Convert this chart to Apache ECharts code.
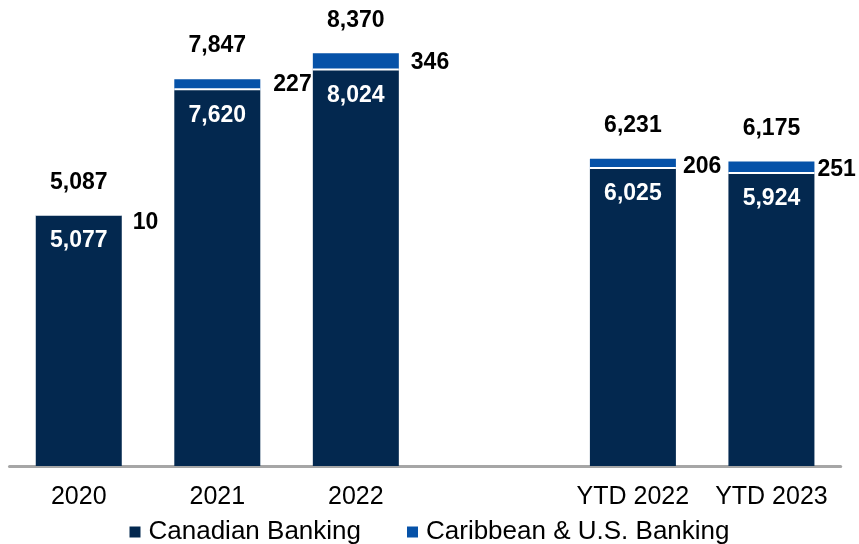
<!DOCTYPE html>
<html>
<head>
<meta charset="utf-8">
<script src="https://cdn.jsdelivr.net/npm/echarts@6/dist/echarts.min.js"></script>
<style>
  html, body { margin: 0; padding: 0; background: #fff; }
  #chart { width: 859px; height: 544px; }
</style>
</head>
<body>
<div id="chart"></div>
<script>
// Categories (an empty slot separates full years from year-to-date)
const categories = ['2020', '2021', '2022', '', 'YTD 2022', 'YTD 2023'];
// Segment values
const canadianBanking = [5077, 7620, 8024, null, 6025, 5924];
const caribbeanUSBanking = [10, 227, 346, null, 206, 251];
const seriesNames = ['Canadian Banking', 'Caribbean & U.S. Banking'];

// Stack totals shown above each bar
const totals = canadianBanking.map((v, i) => (v == null ? null : v + caribbeanUSBanking[i]));

// Per-bar nudges [dx, dy] for the side labels of the top segment
const sideLabelNudges = [[-1, 7], [1, 0], [0, 1], [-5, 3], [-9, 2]];

const NAVY = '#03284f';
const BLUE = '#0652a8';
const FONT = '"Liberation Sans", Arial, sans-serif';

const fmt = v => String(v).replace(/\B(?=(\d{3})+(?!\d))/g, ',');

const blueData = caribbeanUSBanking.map((v, i) => {
  if (v == null) return '-';
  const idx = i > 3 ? i - 1 : i;
  return { value: v, label: { offset: sideLabelNudges[idx] } };
});

// Zero-height cap on each stack that carries the total label
const capData = totals.map(t => (t == null ? '-' : { value: 0, total: t }));

const boldLabel = {
  fontFamily: FONT,
  fontSize: 23,
  fontWeight: 'bold',
  color: '#000000'
};

const chart = echarts.init(document.getElementById('chart'), null, { renderer: 'canvas' });

chart.setOption({
  animation: false,
  backgroundColor: '#ffffff',
  grid: { left: 9.5, right: 18.3, top: 22.3, bottom: 78, containLabel: false },
  legend: {
    data: seriesNames,
    left: 'center',
    top: 514,
    icon: 'rect',
    itemWidth: 11,
    itemHeight: 11,
    itemGap: 46,
    textStyle: { fontFamily: FONT, fontSize: 26, color: '#000', padding: [0, 0, 0, 3] }
  },
  xAxis: {
    type: 'category',
    data: categories,
    axisTick: { show: false },
    axisLine: { show: true, lineStyle: { color: '#a6a6a6', width: 3 } },
    axisLabel: { fontFamily: FONT, fontSize: 25, color: '#000', margin: 19, interval: 0 }
  },
  yAxis: {
    type: 'value',
    min: 0,
    max: 9000,
    show: false,
    splitLine: { show: false }
  },
  series: [
    {
      name: seriesNames[0],
      type: 'bar',
      stack: 'total',
      barWidth: 86,
      z: 3,
      data: canadianBanking.map(v => (v == null ? '-' : v)),
      itemStyle: {
        color: NAVY,
        shadowColor: '#ffffff',
        shadowBlur: 0,
        shadowOffsetX: 0,
        shadowOffsetY: -2
      },
      emphasis: { disabled: true },
      label: Object.assign({}, boldLabel, {
        show: true,
        position: 'insideTop',
        distance: 13.5,
        color: '#ffffff',
        formatter: p => fmt(p.value)
      })
    },
    {
      name: seriesNames[1],
      type: 'bar',
      stack: 'total',
      barWidth: 86,
      z: 2,
      data: blueData,
      itemStyle: { color: BLUE },
      emphasis: { disabled: true },
      label: Object.assign({}, boldLabel, {
        show: true,
        position: 'right',
        distance: 12,
        formatter: p => fmt(p.value)
      })
    },
    {
      name: 'Total',
      type: 'bar',
      stack: 'total',
      barWidth: 86,
      z: 4,
      data: capData,
      itemStyle: { color: 'rgba(0,0,0,0)' },
      emphasis: { disabled: true },
      silent: true,
      label: Object.assign({}, boldLabel, {
        show: true,
        position: 'top',
        distance: 21.5,
        formatter: p => fmt(p.data.total)
      })
    }
  ]
});
</script>
</body>
</html>
